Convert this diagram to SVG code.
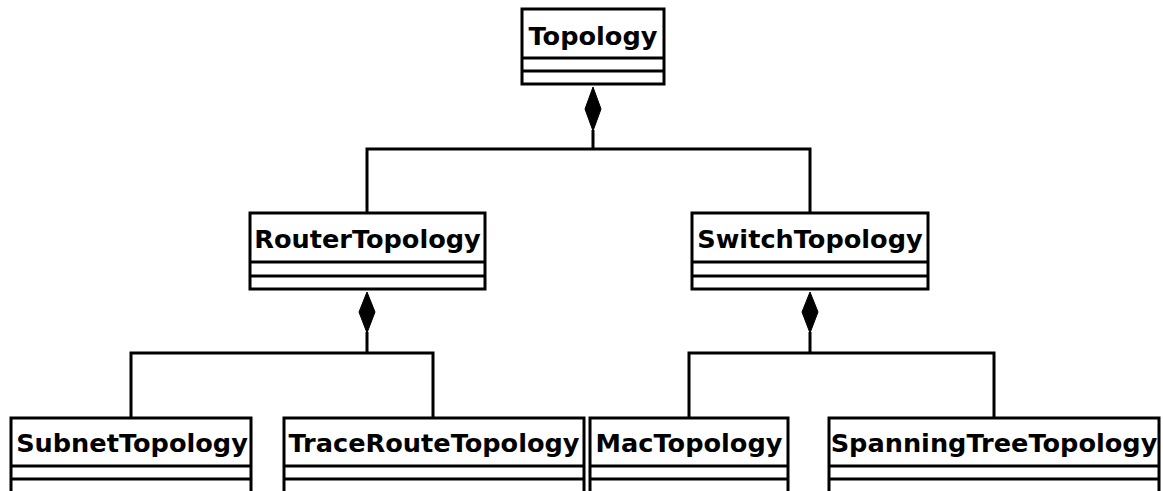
<svg xmlns="http://www.w3.org/2000/svg" width="1163" height="491" viewBox="0 0 1163 491">
<style>
.box{fill:#fff;stroke:#000;stroke-width:3}
.sep{stroke:#000;stroke-width:3}
.lbl{font-family:"DejaVu Sans",sans-serif;font-weight:bold;font-size:25.6px;text-anchor:middle;fill:#000}
.conn{fill:none;stroke:#000;stroke-width:3}
.dia{fill:#000;stroke:#000;stroke-width:1}
</style>
<rect width="1163" height="491" fill="#fff"/>
<g id="connectors">
<path class="conn" d="M593,130 V149 M367,213 V149 H810 V213"/>
<polygon class="dia" points="593,87 601,109 593,131 585,109"/>
<path class="conn" d="M367,332 V353 M131,418 V353 H433 V418"/>
<polygon class="dia" points="367,292 375,312 367,333 359,312"/>
<path class="conn" d="M810,332 V353 M689,418 V353 H994 V418"/>
<polygon class="dia" points="810,292 818,312 810,333 802,312"/>
</g>
<g id="Topology">
<rect class="box" x="522" y="9" width="142" height="75"/>
<line class="sep" x1="522" y1="58" x2="664" y2="58"/>
<line class="sep" x1="522" y1="71" x2="664" y2="71"/>
<text class="lbl" x="593" y="45">Topology</text>
</g>
<g id="RouterTopology">
<rect class="box" x="250" y="213" width="235" height="76"/>
<line class="sep" x1="250" y1="262" x2="485" y2="262"/>
<line class="sep" x1="250" y1="276" x2="485" y2="276"/>
<text class="lbl" x="367.5" y="248">RouterTopology</text>
</g>
<g id="SwitchTopology">
<rect class="box" x="692" y="213" width="236" height="76"/>
<line class="sep" x1="692" y1="262" x2="928" y2="262"/>
<line class="sep" x1="692" y1="276" x2="928" y2="276"/>
<text class="lbl" x="810" y="248">SwitchTopology</text>
</g>
<g id="SubnetTopology">
<rect class="box" x="11" y="418" width="240" height="78"/>
<line class="sep" x1="11" y1="466" x2="251" y2="466"/>
<line class="sep" x1="11" y1="479" x2="251" y2="479"/>
<text class="lbl" x="132" y="452">SubnetTopology</text>
</g>
<g id="TraceRouteTopology">
<rect class="box" x="284" y="418" width="300" height="78"/>
<line class="sep" x1="284" y1="466" x2="584" y2="466"/>
<line class="sep" x1="284" y1="479" x2="584" y2="479"/>
<text class="lbl" x="434" y="452">TraceRouteTopology</text>
</g>
<g id="MacTopology">
<rect class="box" x="590" y="418" width="198" height="78"/>
<line class="sep" x1="590" y1="466" x2="788" y2="466"/>
<line class="sep" x1="590" y1="479" x2="788" y2="479"/>
<text class="lbl" x="689" y="452">MacTopology</text>
</g>
<g id="SpanningTreeTopology">
<rect class="box" x="829" y="418" width="330" height="78"/>
<line class="sep" x1="829" y1="466" x2="1159" y2="466"/>
<line class="sep" x1="829" y1="479" x2="1159" y2="479"/>
<text class="lbl" x="994" y="452">SpanningTreeTopology</text>
</g>
</svg>
